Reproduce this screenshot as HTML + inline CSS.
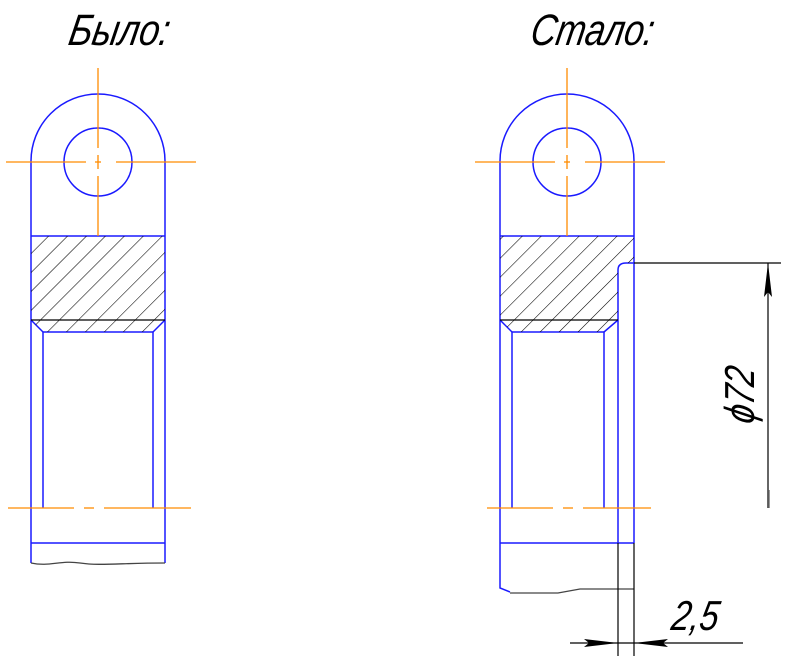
<!DOCTYPE html>
<html><head><meta charset="utf-8"><style>html,body{margin:0;padding:0;background:#fff}svg{display:block}</style></head><body>
<svg width="808" height="666" viewBox="0 0 808 666" xmlns="http://www.w3.org/2000/svg">
<defs>
<pattern id="h" patternUnits="userSpaceOnUse" width="13.4" height="13.4" patternTransform="rotate(45)">
<line x1="0" y1="0" x2="0" y2="13.4" stroke="#000" stroke-width="1.1"/>
</pattern>
</defs>
<g font-family="Liberation Sans, sans-serif" font-style="italic" font-size="44" fill="#000">
<text transform="translate(67,45) skewX(-10) scale(0.82,1)">Было:</text>
<text transform="translate(529,45) skewX(-10) scale(0.80,1)">Стало:</text>
</g>
<!-- LEFT -->
<g fill="none" stroke="#1a1aff" stroke-width="1.5">
<path d="M31,161 A67,67 0 0 1 165,161 L165,563"/>
<path d="M31,161 L31,563"/>
<circle cx="98" cy="162" r="34"/>
<line x1="31" y1="236" x2="165" y2="236"/>
<line x1="43" y1="332" x2="43" y2="508"/>
<line x1="153" y1="332" x2="153" y2="508"/>
<line x1="31" y1="320" x2="43" y2="332"/><line x1="165" y1="320" x2="153" y2="332"/>
<line x1="43" y1="332" x2="153" y2="332"/>
<line x1="31" y1="543" x2="165" y2="543"/>
</g>
<path d="M31,236 H165 V320 L153,332 H43 L31,320 Z" fill="url(#h)"/>
<line x1="31" y1="320" x2="165" y2="320" stroke="#000" stroke-width="1.2"/>
<path d="M31,563 C50,567 60,560 80,563 C100,566 120,563 165,563" fill="none" stroke="#444" stroke-width="1.3"/>
<g stroke="#ff8c00" stroke-width="1.3" fill="none">
<line x1="6" y1="162" x2="86" y2="162"/><line x1="95" y1="162" x2="101" y2="162"/><line x1="116" y1="162" x2="196" y2="162"/>
<line x1="98" y1="68" x2="98" y2="148"/><line x1="98" y1="155" x2="98" y2="169"/><line x1="98" y1="176" x2="98" y2="222"/>
<line x1="98" y1="222" x2="98" y2="236"/>
<line x1="8" y1="508" x2="74" y2="508"/><line x1="84" y1="508" x2="94" y2="508"/><line x1="104" y1="508" x2="191" y2="508"/>
</g>
<!-- RIGHT -->
<g fill="none" stroke="#1a1aff" stroke-width="1.5">
<path d="M500,161 A67,67 0 0 1 634,161 L634,543"/>
<path d="M500,161 L500,588 L510,592"/>
<circle cx="567" cy="162" r="34"/>
<line x1="500" y1="236" x2="634" y2="236"/>
<path d="M618,320 V270 Q618,263 626,263 H634"/>
<line x1="618" y1="320" x2="618" y2="543"/>
<line x1="512" y1="332" x2="512" y2="508"/>
<line x1="604" y1="332" x2="604" y2="508"/>
<line x1="500" y1="320" x2="512" y2="332"/><line x1="618" y1="320" x2="604" y2="332"/>
<line x1="512" y1="332" x2="604" y2="332"/>
<line x1="500" y1="543" x2="634" y2="543"/>
</g>
<path d="M500,236 H634 V263 H626 Q618,263 618,270 V320 L604,332 H512 L500,320 Z" fill="url(#h)"/>
<line x1="500" y1="320" x2="618" y2="320" stroke="#000" stroke-width="1.2"/>
<path d="M510,593 L558,593 L580,589 L634,589" fill="none" stroke="#444" stroke-width="1.3"/>
<g stroke="#ff8c00" stroke-width="1.3" fill="none">
<line x1="475" y1="162" x2="555" y2="162"/><line x1="564" y1="162" x2="570" y2="162"/><line x1="585" y1="162" x2="665" y2="162"/>
<line x1="567" y1="68" x2="567" y2="148"/><line x1="567" y1="155" x2="567" y2="169"/><line x1="567" y1="176" x2="567" y2="236"/>
<line x1="487" y1="508" x2="553" y2="508"/><line x1="563" y1="508" x2="573" y2="508"/><line x1="583" y1="508" x2="651" y2="508"/>
</g>
<!-- dimensions -->
<g stroke="#000" stroke-width="1.2" fill="none">
<line x1="634" y1="263" x2="781" y2="263"/>
<line x1="768" y1="263" x2="768" y2="508"/>
<line x1="618" y1="543" x2="618" y2="656"/>
<line x1="634" y1="543" x2="634" y2="656"/>
<line x1="570" y1="643" x2="743" y2="643"/>
</g>
<line x1="769" y1="490" x2="769" y2="508" stroke="#777" stroke-width="1.5"/>
<g fill="#000">
<path d="M768,263 L764,297 L768,292 L772,297 Z"/>
<path d="M618,643 L584,639 L589,643 L584,647 Z"/>
<path d="M634,643 L668,639 L663,643 L668,647 Z"/>
</g>
<g font-family="Liberation Sans, sans-serif" font-style="italic" font-size="42" fill="#000">
<text transform="translate(754,425) rotate(-90) skewX(-10) scale(0.8,1)">ϕ72</text>
<text transform="translate(670,630) skewX(-10) scale(0.8,1)">2,5</text>
</g>
</svg>
</body></html>
